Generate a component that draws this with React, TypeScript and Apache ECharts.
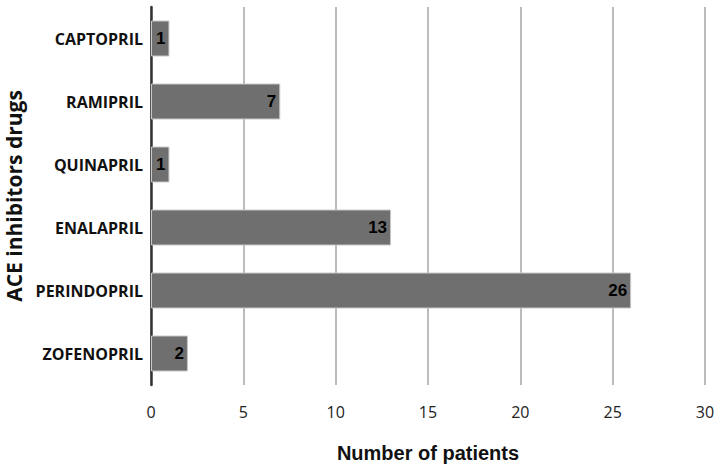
import React, { useEffect, useRef } from "react";
import * as echarts from "echarts";

const categories = ["CAPTOPRIL", "RAMIPRIL", "QUINAPRIL", "ENALAPRIL", "PERINDOPRIL", "ZOFENOPRIL"];
const patients = [1, 7, 1, 13, 26, 2];
const xAxisTitle = "Number of patients";
const yAxisTitle = "ACE inhibitors drugs";

export default function App() {
  const ref = useRef<HTMLDivElement>(null);
  useEffect(() => {
    if (!ref.current) return;
    const chart = echarts.init(ref.current, null, { renderer: "svg" });
    chart.setOption({
      animation: false,
      backgroundColor: "#ffffff",
      grid: { left: 151, right: 15, top: 7, bottom: 81, containLabel: false, outerBoundsMode: "none" },
      xAxis: {
        type: "value",
        min: 0,
        max: 30,
        interval: 5,
        name: xAxisTitle,
        nameLocation: "middle",
        nameGap: 58,
        nameTextStyle: { fontFamily: "Liberation Sans", fontWeight: "bold", fontSize: 20, color: "#111" },
        axisLine: { show: false },
        axisTick: { show: false },
        axisLabel: { fontFamily: "Open Sans", fontSize: 16, color: "#222", margin: 19 },
        splitLine: { show: true, lineStyle: { color: "#a6a6a6", width: 1.5 } },
      },
      yAxis: {
        type: "category",
        inverse: true,
        data: categories,
        name: yAxisTitle,
        nameLocation: "middle",
        nameGap: 123,
        nameTextStyle: { fontFamily: "Open Sans", fontWeight: "bold", fontSize: 21, color: "#111" },
        axisLine: { show: true, lineStyle: { color: "#333", width: 2.5 } },
        axisTick: { show: false },
        axisLabel: { fontFamily: "Open Sans", fontWeight: "bold", fontSize: 16, color: "#111", margin: 8 },
      },
      series: [
        {
          type: "bar",
          data: patients,
          barWidth: 36,
          itemStyle: { color: "#6f6f6f", borderColor: "#c8c8c8", borderWidth: 1 },
          label: {
            show: true,
            position: "insideRight",
            distance: 4,
            fontFamily: "Liberation Sans",
            fontWeight: "bold",
            fontSize: 17,
            color: "#000",
          },
        },
      ],
    });
    return () => chart.dispose();
  }, []);
  return <div ref={ref} style={{ position: "fixed", left: 0, top: 0, width: 720, height: 466 }} />;
}
